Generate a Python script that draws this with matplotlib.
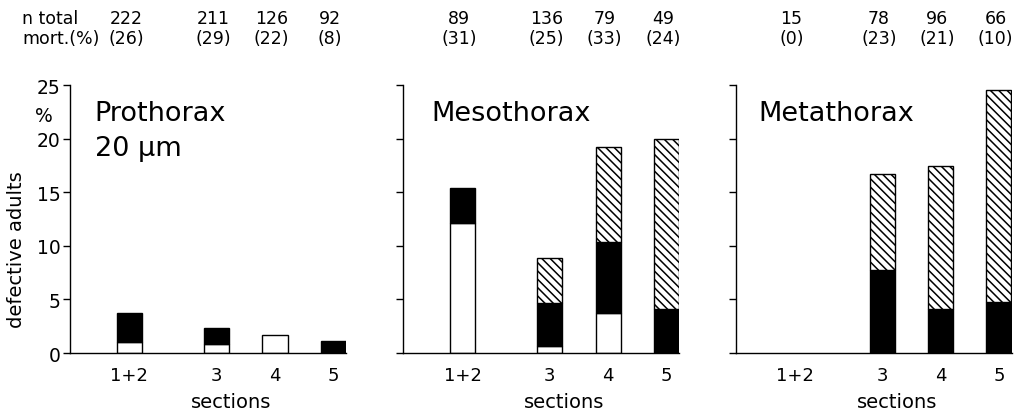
import matplotlib
matplotlib.use("Agg")
import matplotlib.pyplot as plt
import matplotlib.transforms as mtransforms

plt.rcParams['font.family'] = ['DejaVu Sans']
plt.rcParams['hatch.linewidth'] = 1.1

# ---- data ----
sections = ["1+2", "3", "4", "5"]
positions = [1.0, 2.5, 3.5, 4.5]
panel_names = ["Prothorax", "Mesothorax", "Metathorax"]

# stacked segment heights (% defective adults): white (bottom), black (middle), hatched (top)
pro_white = [1.0, 0.8, 1.7, 0.0]
pro_black = [2.75, 1.55, 0.0, 1.1]
pro_hatch = [0.0, 0.0, 0.0, 0.0]

meso_white = [12.1, 0.7, 3.75, 0.0]
meso_black = [3.3, 4.0, 6.6, 4.15]
meso_hatch = [0.0, 4.15, 8.9, 15.85]

meta_white = [0.0, 0.0, 0.0, 0.0]
meta_black = [0.0, 7.75, 4.15, 4.8]
meta_hatch = [0.0, 8.95, 13.25, 19.7]

pro_n = [222, 211, 126, 92]
meso_n = [89, 136, 79, 49]
meta_n = [15, 78, 96, 66]

pro_mort = [26, 29, 22, 8]
meso_mort = [31, 25, 33, 24]
meta_mort = [0, 23, 21, 10]

yticks = [0, 5, 10, 15, 20, 25]

panels = [
    (pro_white, pro_black, pro_hatch, pro_n, pro_mort),
    (meso_white, meso_black, meso_hatch, meso_n, meso_mort),
    (meta_white, meta_black, meta_hatch, meta_n, meta_mort),
]

# ---- figure ----
fig = plt.figure(figsize=(10.16, 4.14), dpi=100)
lefts = [0.0689, 0.3967, 0.7241]
title_x = [0.09, 0.104, 0.081]
bw = 0.43

for i, (white, black, hatch, ns, morts) in enumerate(panels):
    ax = fig.add_axes([lefts[i], 0.1449, 0.2717, 0.6473])
    for x, w, b, h in zip(positions, white, black, hatch):
        if w > 0:
            ax.bar(x, w, width=bw, bottom=0, color='white', edgecolor='black', linewidth=1.0)
        if b > 0:
            ax.bar(x, b, width=bw, bottom=w, color='black', edgecolor='black', linewidth=1.0)
        if h > 0:
            ax.bar(x, h, width=bw, bottom=w + b, color='white', edgecolor='black',
                   hatch='\\\\\\\\', linewidth=1.0)
    ax.set_xlim(-0.02, 4.72)
    ax.set_ylim(0, 25)
    for s in ['top', 'right']:
        ax.spines[s].set_visible(False)
    for s in ['left', 'bottom']:
        ax.spines[s].set_linewidth(1.0)
    ax.set_yticks(yticks)
    ax.tick_params(axis='y', direction='out', length=5, width=1, pad=2, labelsize=13.5,
                   labelleft=(i == 0))
    ax.set_xticks(positions)
    ax.set_xticklabels(sections)
    ax.tick_params(axis='x', length=0, pad=9, labelsize=13)

    blend = mtransforms.blended_transform_factory(ax.transData, fig.transFigure)
    ax.text(2.75, 0.0266, "sections", transform=blend, ha='center', va='center', fontsize=14)
    for x, n, m in zip(positions, ns, morts):
        ax.text(x - 0.06, 0.954, str(n), transform=blend, ha='center', va='center', fontsize=12.5)
        ax.text(x - 0.06, 0.906, "(%d)" % m, transform=blend, ha='center', va='center', fontsize=12.5)

    ax.text(title_x[i], 21.7, panel_names[i], transform=ax.get_yaxis_transform(),
            ha='left', va='baseline', fontsize=19.5)
    if i == 0:
        ax.text(title_x[i], 18.5, "20 \u00b5m", transform=ax.get_yaxis_transform(),
                ha='left', va='baseline', fontsize=19.5)
        ax.text(-0.127, 22.2, "%", transform=ax.get_yaxis_transform(),
                ha='left', va='center', fontsize=13.5)

fig.text(22 / 1016, 0.954, "n total", ha='left', va='center', fontsize=12.5)
fig.text(22 / 1016, 0.906, "mort.(%)", ha='left', va='center', fontsize=12.5)
fig.text(17 / 1016, 1 - 250 / 414, "defective adults", rotation=90,
         ha='center', va='center', fontsize=14)

fig.savefig("out.png", dpi=100)
